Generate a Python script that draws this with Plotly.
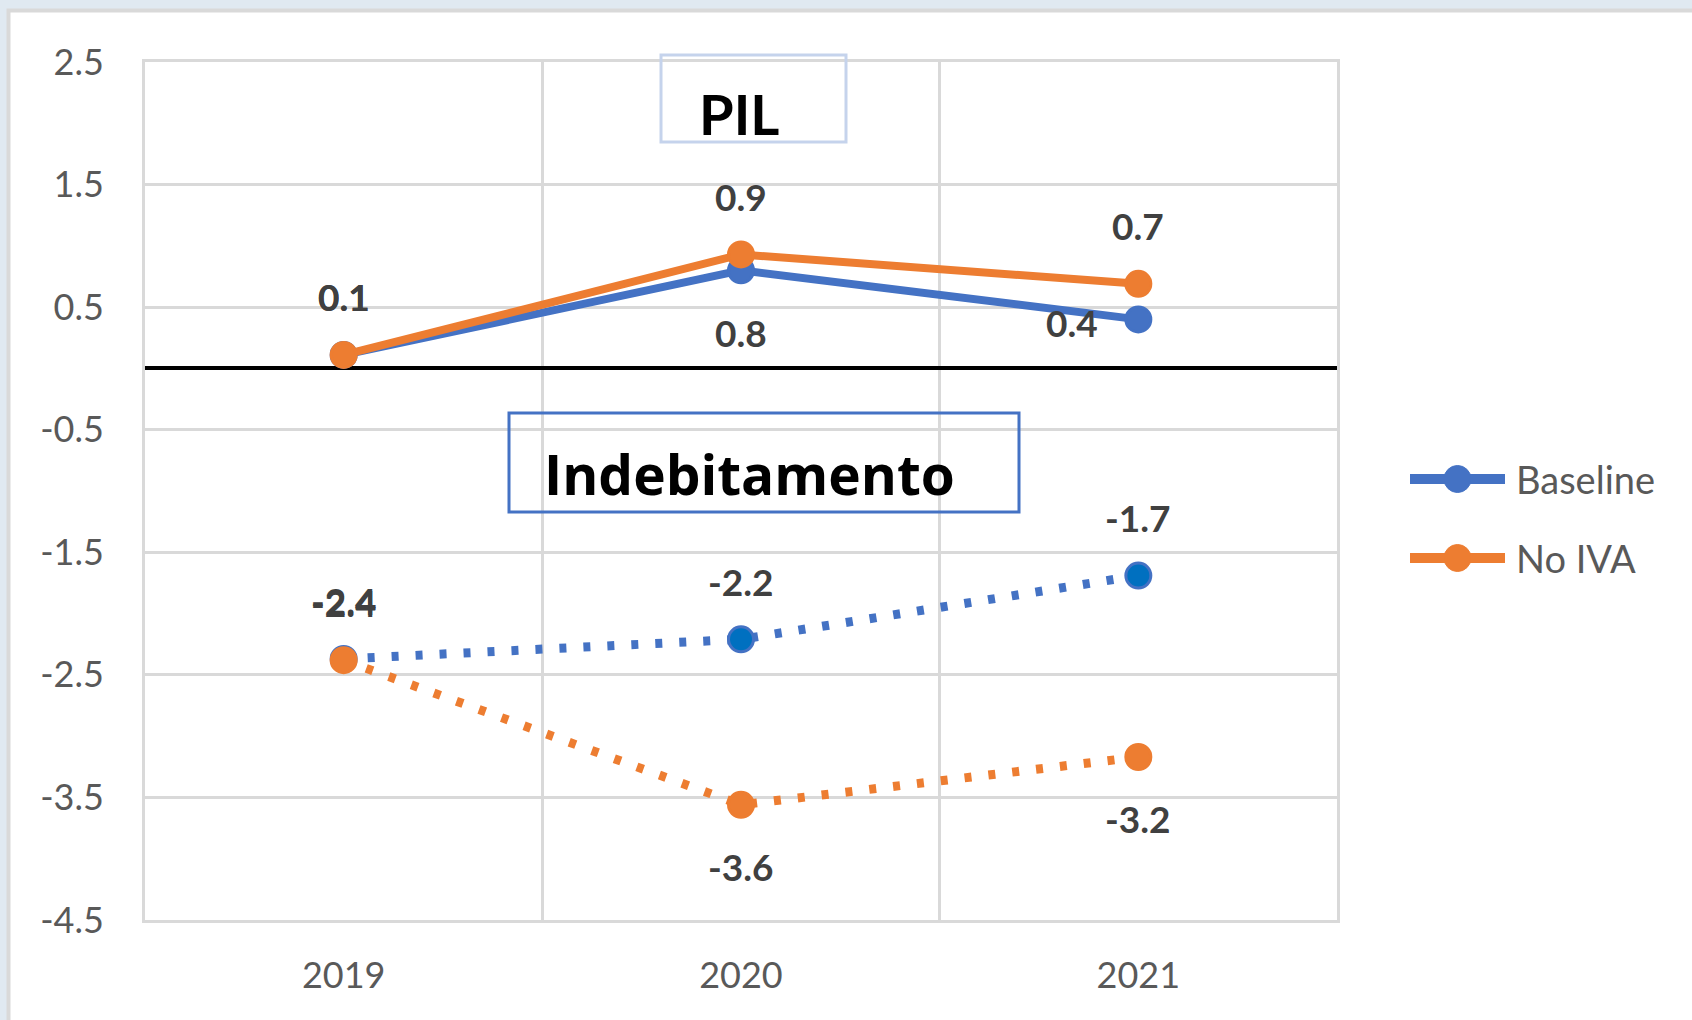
import plotly.graph_objects as go

# dati
anni = ["2019", "2020", "2021"]
pil_baseline = [0.11, 0.80, 0.40]
pil_noiva = [0.11, 0.93, 0.69]
indeb_baseline = [-2.37, -2.21, -1.69]
indeb_noiva = [-2.38, -3.56, -3.17]

y_ticks = [-4.5, -3.5, -2.5, -1.5, -0.5, 0.5, 1.5, 2.5]
y_labels = ["-4.5", "-3.5", "-2.5", "-1.5", "-0.5", "0.5", "1.5", "2.5"]

# dove mettere le etichette rispetto al punto
pos_pil_baseline = ["above", "below", "left"]
pos_pil_noiva = ["above", "above", "above"]
pos_indeb_baseline = ["above", "above", "above"]
pos_indeb_noiva = ["above", "below", "below"]

BLUE = "#4472c4"
DARKBLUE = "#0070c0"
ORANGE = "#ed7d31"
GRID = "#d9d9d9"
FONT = "Lato"

# conversione pixel -> coordinate paper (area del grafico 145..1337 x 62..920)
def px(v):
    return (v - 145) / 1192


def py(v):
    return (920 - v) / 858


x = list(range(len(anni)))

fig = go.Figure()


def add_series(vals, color, fill, dash, width):
    fig.add_trace(go.Scatter(
        x=x, y=vals, mode="lines+markers", showlegend=False,
        line=dict(color=color, width=width, dash=dash),
        marker=dict(color=fill, size=25, line=dict(color=color, width=3)),
        hoverinfo="skip",
    ))


add_series(indeb_baseline, BLUE, DARKBLUE, "7px,17px", 9)
add_series(indeb_noiva, ORANGE, ORANGE, "7px,17px", 9)
add_series(pil_baseline, BLUE, BLUE, "solid", 8)
add_series(pil_noiva, ORANGE, ORANGE, "solid", 8)

# etichette dei valori
shifts = {"above": (0, 58), "below": (0, -62), "left": (-66, -3)}
for vals, pos in [(pil_baseline, pos_pil_baseline), (pil_noiva, pos_pil_noiva),
                  (indeb_baseline, pos_indeb_baseline), (indeb_noiva, pos_indeb_noiva)]:
    for xi, v, p in zip(x, vals, pos):
        dx, dy = shifts[p]
        fig.add_annotation(x=xi, y=v, text=f"<b>{v:.1f}</b>", showarrow=False,
                           xshift=dx, yshift=dy,
                           font=dict(family=FONT, size=37, color="#404040"))

# sfondo: cornice bianca su fondo azzurrino
fig.add_shape(type="rect", xref="paper", yref="paper", layer="below",
              x0=px(8.5), x1=px(1720), y0=py(1040), y1=py(10.5),
              fillcolor="white", line=dict(color=GRID, width=4))

# riquadri dei titoli
fig.add_shape(type="rect", xref="paper", yref="paper",
              x0=px(661), x1=px(846), y0=py(142), y1=py(55),
              line=dict(color="#c5d3ec", width=3))
fig.add_annotation(xref="paper", yref="paper", x=px(739), y=py(113),
                   text="<b>PIL</b>", showarrow=False, yanchor="middle",
                   font=dict(family=FONT, size=56, color="black"))

fig.add_shape(type="rect", xref="paper", yref="paper",
              x0=px(509), x1=px(1019), y0=py(512), y1=py(413),
              line=dict(color=BLUE, width=3))
fig.add_annotation(xref="paper", yref="paper", x=px(749), y=py(473),
                   text="<b>Indebitamento</b>", showarrow=False, yanchor="middle",
                   font=dict(family="Open Sans", size=55, color="black"))

# legenda
for name, color, ly in [("Baseline", BLUE, 479), ("No IVA", ORANGE, 558)]:
    fig.add_shape(type="line", xref="paper", yref="paper",
                  x0=px(1410), x1=px(1505), y0=py(ly), y1=py(ly),
                  line=dict(color=color, width=10))
    fig.add_shape(type="circle", xref="paper", yref="paper",
                  x0=px(1444), x1=px(1471), y0=py(ly + 13.5), y1=py(ly - 13.5),
                  fillcolor=color, line=dict(color=color, width=1))
    fig.add_annotation(xref="paper", yref="paper", x=px(1514), y=py(ly),
                       text=name, showarrow=False, xanchor="left", yanchor="middle",
                       font=dict(family=FONT, size=38, color="#595959"))

fig.update_xaxes(
    range=[-0.5, 2.5], tickvals=x, ticktext=anni,
    showgrid=False, zeroline=False,
    minor=dict(tick0=-0.5, dtick=1, showgrid=True, gridcolor=GRID, gridwidth=3, ticks=""),
    showline=True, mirror=True, linecolor=GRID, linewidth=3,
    ticks="outside", ticklen=22, tickcolor="rgba(0,0,0,0)",
    tickfont=dict(family=FONT, size=36, color="#595959"),
    automargin=False,
)
fig.update_yaxes(
    range=[-4.5, 2.5], tickvals=y_ticks, ticktext=y_labels,
    showgrid=True, gridcolor=GRID, gridwidth=3,
    zeroline=True, zerolinecolor="black", zerolinewidth=4,
    showline=True, mirror=True, linecolor=GRID, linewidth=3,
    ticks="outside", ticklen=31, tickcolor="rgba(0,0,0,0)",
    tickfont=dict(family=FONT, size=36, color="#595959"),
    automargin=False,
)

fig.update_layout(
    width=1692, height=1020,
    margin=dict(l=145, r=355, t=62, b=100),
    paper_bgcolor="#e0e9f1", plot_bgcolor="white",
    showlegend=False,
)

fig.write_html("out.html", config={"displayModeBar": False},
               post_script="document.body.style.margin='0';")
